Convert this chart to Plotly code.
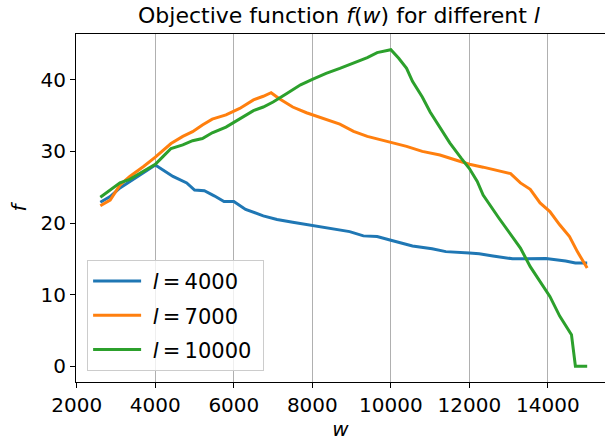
import plotly.graph_objects as go

# Objective function f(w) sampled for three values of l
w_l4000 = [2600, 2850, 3100, 3350, 3600, 4000, 4450, 4800, 5000, 5250, 5500, 5750, 6000,
           6300, 6750, 7100, 7500, 8000, 8450, 8950, 9300, 9650, 10000, 10550, 11050,
           11400, 12000, 12250, 12600, 13100, 13450, 13950, 14450, 14700, 15000]
f_l4000 = [22.9, 23.7, 24.9, 25.8, 26.7, 28.1, 26.5, 25.6, 24.6, 24.5, 23.8, 23.0, 23.0,
           21.9, 21.0, 20.5, 20.1, 19.65, 19.3, 18.8, 18.2, 18.1, 17.6, 16.8, 16.4,
           16.0, 15.8, 15.7, 15.4, 15.0, 15.0, 15.05, 14.7, 14.4, 14.4]

w_l7000 = [2600, 2850, 3100, 3350, 3700, 4000, 4400, 4700, 4950, 5200, 5450, 5800, 6150,
           6500, 6750, 6950, 7150, 7500, 7850, 8250, 8700, 9050, 9400, 9900, 10400, 10800,
           11250, 11650, 12000, 12350, 12700, 13050, 13300, 13550, 13800, 14050, 14300,
           14550, 14750, 15000]
f_l7000 = [22.4, 23.2, 25.3, 26.5, 27.9, 29.2, 31.1, 32.1, 32.75, 33.7, 34.5, 35.1, 36.0,
           37.2, 37.7, 38.2, 37.4, 36.2, 35.4, 34.6, 33.8, 32.8, 32.1, 31.4, 30.7, 30.0,
           29.5, 28.8, 28.2, 27.8, 27.3, 26.9, 25.6, 24.7, 22.8, 21.6, 19.75,
           18.1, 16.0, 13.7]

w_l10000 = [2600, 2850, 3100, 3350, 3700, 4000, 4200, 4400, 4700, 4950, 5200, 5450, 5800,
            6150, 6500, 6750, 7000, 7350, 7700, 8000, 8350, 8700, 9050, 9400, 9650, 10000,
            10200, 10400, 10550, 10800, 11000, 11250, 11500, 11800, 12000, 12200, 12350,
            12750, 13050, 13300, 13550, 13800, 14050, 14300, 14600, 14700, 15000]
f_l10000 = [23.6, 24.6, 25.6, 26.1, 27.2, 28.2, 29.3, 30.4, 30.9, 31.5, 31.8, 32.6, 33.4,
            34.6, 35.7, 36.2, 36.9, 38.1, 39.3, 40.05, 40.9, 41.6, 42.3, 43.1, 43.8, 44.2,
            43.0, 41.6, 39.8, 37.6, 35.5, 33.3, 31.2, 29.0, 27.6, 25.8, 23.9,
            20.7, 18.4, 16.5, 13.9, 11.85, 9.75, 7.0, 4.4, 0.0, 0.0]

series = [
    ("4000", w_l4000, f_l4000, "#1f77b4"),
    ("7000", w_l7000, f_l7000, "#ff7f0e"),
    ("10000", w_l10000, f_l10000, "#2ca02c"),
]

x_ticks = [2000, 4000, 6000, 8000, 10000, 12000, 14000]
y_ticks = [0, 10, 20, 30, 40]

FONT = "DejaVu Sans"
NBSP = "\u00a0"
THIN = "\u2009"

fig = go.Figure()
for label, w, f, color in series:
    fig.add_trace(go.Scatter(
        x=w, y=f, mode="lines",
        name=f"{NBSP}<i>l</i>{THIN}={THIN}{label}{NBSP}",
        legendgroup=label,
        line=dict(color=color, width=3),
    ))

fig.update_layout(
    width=605, height=442,
    margin=dict(l=76, r=0, t=34, b=60),
    paper_bgcolor="white", plot_bgcolor="white",
    font=dict(family=FONT, size=20, color="black"),
    title=dict(
        text="Objective function <i>f</i>(<i>w</i>) for different <i>l</i>",
        x=339 / 605, xref="container", xanchor="center",
        y=1 - 15 / 442, yref="container", yanchor="middle",
        font=dict(family=FONT, size=22, color="black"),
    ),
    showlegend=True,
    legend=dict(
        x=0.021, y=0.032, xanchor="left", yanchor="bottom",
        bgcolor="rgba(255,255,255,0.8)", bordercolor="#cccccc", borderwidth=1,
        font=dict(family=FONT, size=21, color="black"),
        traceorder="grouped", tracegroupgap=4,
        itemwidth=48,
    ),
)

fig.update_xaxes(
    range=[1980, 15454],
    tickvals=x_ticks, ticktext=[str(v) for v in x_ticks],
    showgrid=True, gridcolor="#b0b0b0", gridwidth=1,
    showline=True, linecolor="black", linewidth=1, mirror=True,
    ticks="outside", ticklen=5, tickwidth=1, tickcolor="black",
    zeroline=False,
    title=dict(text="<i>w</i>", standoff=4, font=dict(family=FONT, size=20)),
)
fig.update_yaxes(
    range=[-2.21, 46.4],
    tickvals=y_ticks, ticktext=[str(v) for v in y_ticks],
    showgrid=False,
    showline=True, linecolor="black", linewidth=1, mirror=False,
    ticks="outside", ticklen=5, tickwidth=1, tickcolor="black",
    zeroline=False,
    title=dict(text="<i>f</i>", standoff=8, font=dict(family=FONT, size=20)),
)

fig.write_html("out.html")
